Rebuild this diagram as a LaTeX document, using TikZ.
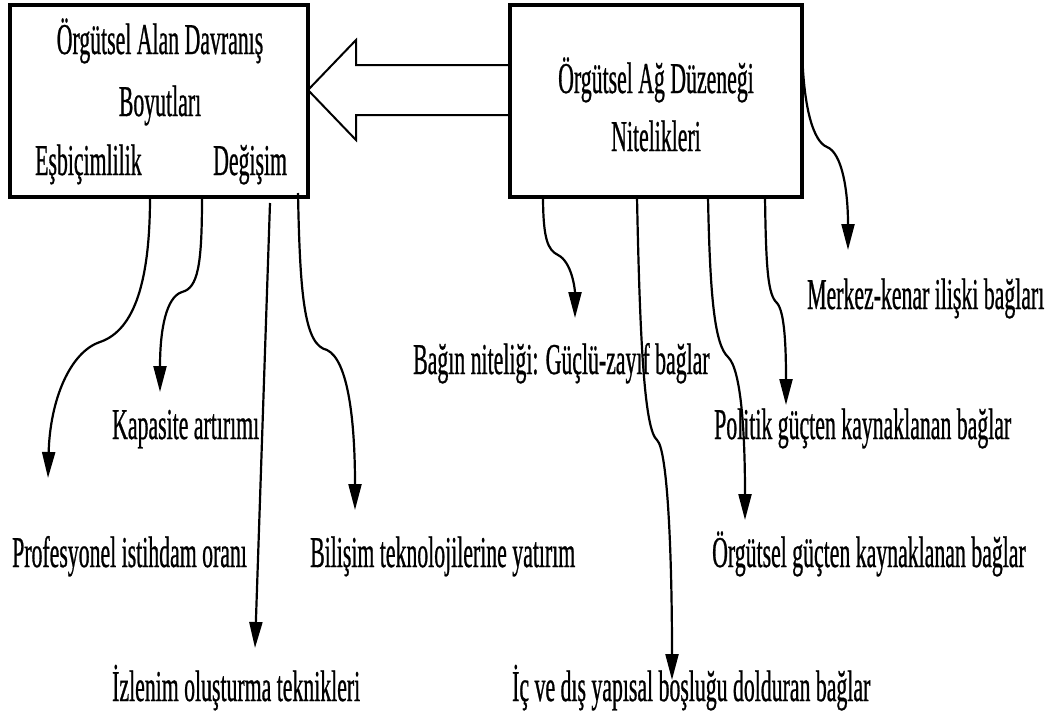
\documentclass[tikz,border=0pt]{standalone}
\usepackage{fontspec}
\setmainfont{Liberation Serif}[FakeStretch=0.495,FakeBold=0.6]
\usetikzlibrary{arrows.meta,calc}
\begin{document}
\begin{tikzpicture}[x=1pt,y=-1pt,
  box/.style={draw, line width=4pt, inner sep=0pt, outer sep=0pt, rectangle},
  txt/.style={inner sep=0pt, font=\fontsize{44}{52}\selectfont},
  lbl/.style={txt, anchor=base west},
  ctr/.style={txt, anchor=base},
  conn/.style={line width=2.2pt, -{Triangle[length=26pt,width=13pt]}},
  hollow/.style={line width=2pt, line join=miter},
]
\useasboundingbox (0,0) rectangle (1048,713);
% boxes
\node[box, minimum width=298pt, minimum height=192pt] (lb) at (159,101) {};
\node[box, minimum width=292pt, minimum height=192pt] (rb) at (656,101) {};
% box texts
\node[ctr] (lt1) at (160,54) {Örgütsel Alan Davranış};
\node[ctr] (lt2) at (160,116) {Boyutları};
\node[lbl] (lt3) at (35,175) {Eşbiçimlilik};
\node[lbl] (lt4) at (213,175) {Değişim};
\node[ctr] (rt1) at (656,93) {Örgütsel Ağ Düzeneği};
\node[ctr] (rt2) at (656,151) {Nitelikleri};
% big hollow arrow
\draw[hollow] ($(rb.west)+(0,-36)$) -- ($(lb.east)+(48,-36)$) -- ($(lb.east)+(48,-61)$)
  -- ($(lb.east)+(0,-11)$) -- ($(lb.east)+(48,39)$) -- ($(lb.east)+(48,14)$) -- ($(rb.west)+(0,14)$);
% labels
\node[lbl] (l1) at (12,567) {Profesyonel istihdam oranı};
\node[lbl] (l2) at (112,439) {Kapasite artırımı};
\node[lbl] (l3) at (112,701) {İzlenim oluşturma teknikleri};
\node[lbl] (l4) at (310,567) {Bilişim teknolojilerine yatırım};
\node[lbl] (r1) at (413,374) {Bağın niteliği: Güçlü-zayıf bağlar};
\node[lbl] (r2) at (512,701) {İç ve dış yapısal boşluğu dolduran bağlar};
\node[lbl] (r3) at (712,567) {Örgütsel güçten kaynaklanan bağlar};
\node[lbl] (r4) at (714,439) {Politik güçten kaynaklanan bağlar};
\node[lbl] (r5) at (807,309) {Merkez-kenar ilişki bağları};
% arrow tips
\coordinate (t1) at (48,478);
\coordinate (t2) at (160,392);
\coordinate (t3) at (255,648);
\coordinate (t4) at (355,510);
\coordinate (u1) at (575,318);
\coordinate (u2) at (672,680);
\coordinate (u3) at (745,520);
\coordinate (u4) at (786,405);
\coordinate (u5) at (848,250);
% left connectors
\draw[conn] ($(lb.south west)+(140,0)$) .. controls (150,280) and (135,330) .. (100,342)
  .. controls (70,352) and (50,400) .. (t1);
\draw[conn] ($(lb.south west)+(192,0)$) .. controls (202,265) and (198,288) .. (182,292)
  .. controls (166,297) and (160,330) .. (t2);
\draw[conn] ($(lb.south west)+(260,6)$) -- (t3);
\draw[conn] ($(lb.south west)+(288,-4)$) .. controls (300,300) and (305,345) .. (327,350)
  .. controls (348,360) and (355,420) .. (t4);
% right connectors
\draw[conn] ($(rb.south west)+(33,-2)$) .. controls (543,240) and (548,250) .. (558,255)
  .. controls (572,262) and (575,290) .. (u1);
\draw[conn] ($(rb.south west)+(127,0)$) .. controls (640,350) and (645,430) .. (657,440)
  .. controls (668,450) and (672,560) .. (u2);
\draw[conn] ($(rb.south west)+(198,0)$) .. controls (710,300) and (715,345) .. (728,357)
  .. controls (742,370) and (745,440) .. (u3);
\draw[conn] ($(rb.south west)+(255,0)$) .. controls (766,270) and (768,295) .. (777,303)
  .. controls (785,312) and (786,350) .. (u4);
\draw[conn] ($(rb.north east)+(0,40)$) .. controls (803,110) and (814,142) .. (827,147)
  .. controls (842,153) and (848,190) .. (u5);
\end{tikzpicture}
\end{document}
